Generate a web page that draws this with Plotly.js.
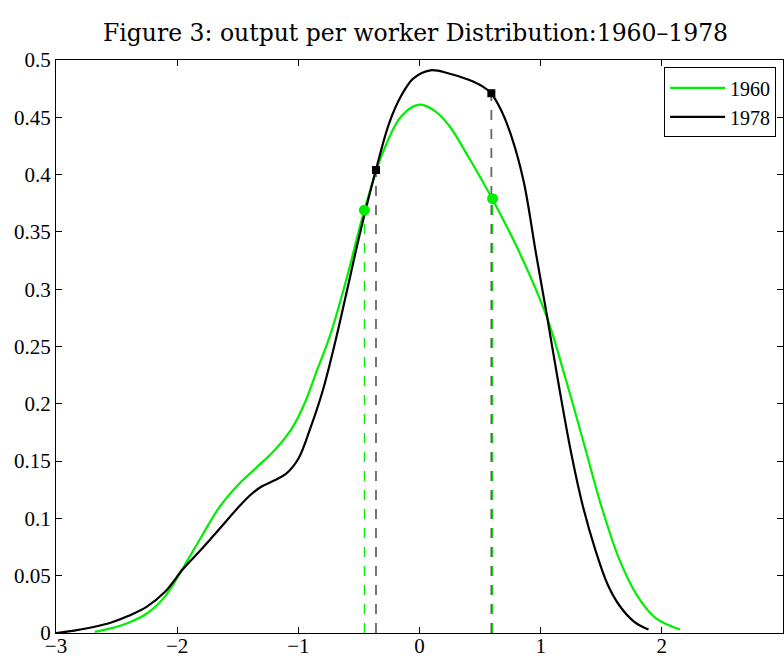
<!DOCTYPE html>
<html>
<head>
<meta charset="utf-8">
<script src="https://cdn.plot.ly/plotly-3.0.1.min.js"></script>
<style>html,body{margin:0;padding:0;background:#fff;}#chart{width:784px;height:659px;}</style>
</head>
<body>
<div id="chart"></div>
<script>
// 1978 density
const x1978 = [-3.0, -2.85, -2.7, -2.55, -2.4, -2.25, -2.1, -1.95, -1.8, -1.65, -1.5, -1.4, -1.3, -1.2, -1.1, -1.0, -0.9, -0.8, -0.7, -0.6, -0.5, -0.36, -0.25, -0.15, -0.05, 0.09, 0.25, 0.4, 0.52, 0.59, 0.67, 0.76, 0.86, 0.96, 1.05, 1.15, 1.25, 1.35, 1.45, 1.55, 1.65, 1.77, 1.89];
const y1978 = [0.000, 0.002, 0.005, 0.009, 0.015, 0.023, 0.036, 0.056, 0.073, 0.091, 0.109, 0.120, 0.128, 0.133, 0.139, 0.152, 0.179, 0.211, 0.252, 0.298, 0.345, 0.404, 0.445, 0.469, 0.484, 0.491, 0.488, 0.483, 0.477, 0.471, 0.457, 0.433, 0.394, 0.332, 0.278, 0.216, 0.158, 0.110, 0.073, 0.043, 0.024, 0.010, 0.003];
// 1960 density
const x1960 = [-2.68, -2.55, -2.4, -2.25, -2.1, -1.95, -1.8, -1.65, -1.5, -1.35, -1.2, -1.05, -0.95, -0.85, -0.74, -0.6, -0.455, -0.3, -0.15, 0.0, 0.12, 0.25, 0.4, 0.5, 0.6, 0.83, 1.05, 1.2, 1.35, 1.5, 1.65, 1.8, 1.95, 2.15];
const y1960 = [0.001, 0.004, 0.009, 0.017, 0.032, 0.057, 0.084, 0.110, 0.129, 0.144, 0.159, 0.179, 0.200, 0.228, 0.259, 0.310, 0.369, 0.420, 0.451, 0.461, 0.456, 0.442, 0.416, 0.398, 0.379, 0.331, 0.276, 0.224, 0.168, 0.111, 0.064, 0.032, 0.013, 0.003];
// marked points
const mark1960x = [-0.455, 0.603];
const mark1960y = [0.369, 0.379];
const mark1978x = [-0.359, 0.593];
const mark1978y = [0.404, 0.471];
// axis ticks
const xTicks = [-3, -2, -1, 0, 1, 2, 3];
const yTicks = [0, 0.05, 0.1, 0.15, 0.2, 0.25, 0.3, 0.35, 0.4, 0.45, 0.5];
const yTickText = ["0", "0.05", "0.1", "0.15", "0.2", "0.25", "0.3", "0.35", "0.4", "0.45", "0.5"];

const serif = 'Liberation Serif, Times New Roman, serif';
const traces = [];
// dashed drop lines
for (let i = 0; i < mark1960x.length; i++) {
  traces.push({x: [mark1960x[i], mark1960x[i]], y: [0, mark1960y[i]], mode: 'lines', showlegend: false, hoverinfo: 'skip',
    line: {color: '#00ee00', width: 1.2, dash: '10px,9px'}});
}
for (let i = 0; i < mark1978x.length; i++) {
  traces.push({x: [mark1978x[i], mark1978x[i]], y: [0, mark1978y[i]], mode: 'lines', showlegend: false, hoverinfo: 'skip',
    line: {color: '#666666', width: 1.8, dash: '10px,9px'}});
}
traces.push({x: x1960, y: y1960, mode: 'lines', name: '1960', line: {color: '#00ee00', width: 2.2, shape: 'spline', smoothing: 1}});
traces.push({x: x1978, y: y1978, mode: 'lines', name: '1978', line: {color: '#000000', width: 2.2, shape: 'spline', smoothing: 1}});
traces.push({x: mark1960x, y: mark1960y, mode: 'markers', showlegend: false, marker: {color: '#00ee00', size: 11, symbol: 'circle'}});
traces.push({x: mark1978x, y: mark1978y, mode: 'markers', showlegend: false, marker: {color: '#000000', size: 8, symbol: 'square'}});

const axisCommon = {
  showgrid: false, zeroline: false, showline: true, linecolor: '#000', linewidth: 1,
  mirror: 'ticks', ticks: 'inside', ticklen: 6, tickcolor: '#000', tickwidth: 1,
  tickfont: {family: serif, size: 21, color: '#000'}
};

const layout = {
  width: 784, height: 659,
  margin: {l: 56, r: 1, t: 60, b: 26},
  paper_bgcolor: '#fff', plot_bgcolor: '#fff',
  title: {text: 'Figure 3: output per worker Distribution:1960–1978', x: 0.53, xanchor: 'center', y: 0.951, yanchor: 'middle',
    font: {family: 'DejaVu Serif, serif', size: 23.5, color: '#000'}},
  xaxis: Object.assign({}, axisCommon, {range: [-3, 3], tickmode: 'array', tickvals: xTicks, ticklabelstandoff: -6}),
  yaxis: Object.assign({}, axisCommon, {range: [0, 0.5], tickmode: 'array', tickvals: yTicks, ticktext: yTickText}),
  showlegend: true,
  legend: {x: 0.9905, xanchor: 'right', y: 0.987, yanchor: 'top', bgcolor: '#fff', bordercolor: '#000', borderwidth: 1,
    font: {family: serif, size: 20, color: '#000'}, tracegroupgap: 0, itemwidth: 55}
};

Plotly.newPlot('chart', traces, layout, {staticPlot: true, displayModeBar: false});
</script>
</body>
</html>
